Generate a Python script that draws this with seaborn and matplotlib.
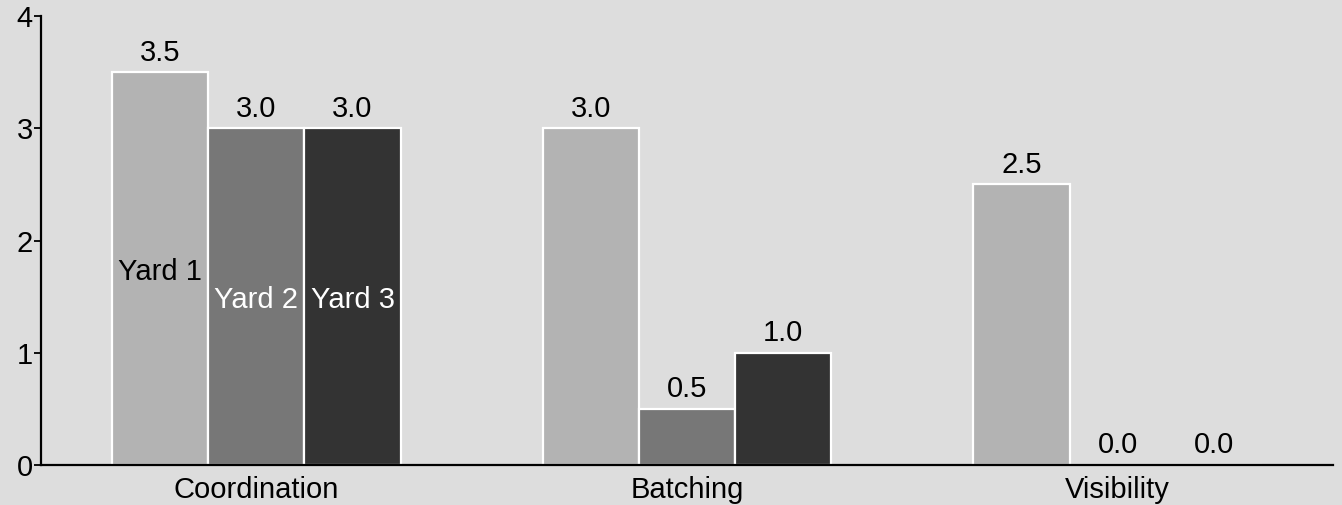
import matplotlib
matplotlib.use("Agg")
import matplotlib.pyplot as plt
import seaborn as sns
import pandas as pd

# Scores per category for each yard
categories = ["Coordination", "Batching", "Visibility"]
yards = ["Yard 1", "Yard 2", "Yard 3"]
yard1 = [3.5, 3.0, 2.5]
yard2 = [3.0, 0.5, 0.0]
yard3 = [3.0, 1.0, 0.0]
y_ticks = [0, 1, 2, 3, 4]

name_colors = ["black", "white", "white"]

bg = "#dddddd"
palette = ["#b3b3b3", "#777777", "#333333"]
fs = 21

sns.set_theme(style="white")
plt.rcParams["font.family"] = ["Liberation Sans", "DejaVu Sans"]

df = pd.DataFrame({
    "category": categories * 3,
    "yard": [y for y in yards for _ in categories],
    "score": yard1 + yard2 + yard3,
})

fig = plt.figure(figsize=(13.42, 5.05), dpi=100, facecolor=bg)
ax = fig.add_axes([41 / 1342, 40 / 505, 1292 / 1342, 449 / 505])
ax.set_facecolor(bg)

sns.barplot(
    data=df, x="category", y="score", hue="yard",
    order=categories, hue_order=yards, palette=palette,
    width=0.67, edgecolor="white", linewidth=1.6,
    errorbar=None, legend=False, ax=ax,
)

for cont in ax.containers:
    ax.bar_label(cont, fmt="%.1f", padding=4, fontsize=fs, color="black")

# Yard names written at mid-height of the Coordination bars
for cont, name, c in zip(ax.containers, yards, name_colors):
    bar = cont.patches[0]
    ax.text(bar.get_x() + bar.get_width() / 2, bar.get_height() / 2, name,
            ha="center", va="center_baseline", fontsize=fs, color=c)

ax.set_xlim(-0.5, 2.5)
ax.set_ylim(0, 4)
ax.set_yticks(y_ticks)
ax.set_xlabel("")
ax.set_ylabel("")

for side in ["top", "right"]:
    ax.spines[side].set_visible(False)
for side in ["left", "bottom"]:
    ax.spines[side].set_color("black")
    ax.spines[side].set_linewidth(1.6)

ax.tick_params(axis="y", left=True, length=5, width=1.3, color="black",
               labelsize=fs, pad=1, labelcolor="black")
ax.tick_params(axis="x", bottom=False, length=0, labelsize=fs, pad=8,
               labelcolor="black")

fig.savefig("out.png", dpi=100, facecolor=bg)
